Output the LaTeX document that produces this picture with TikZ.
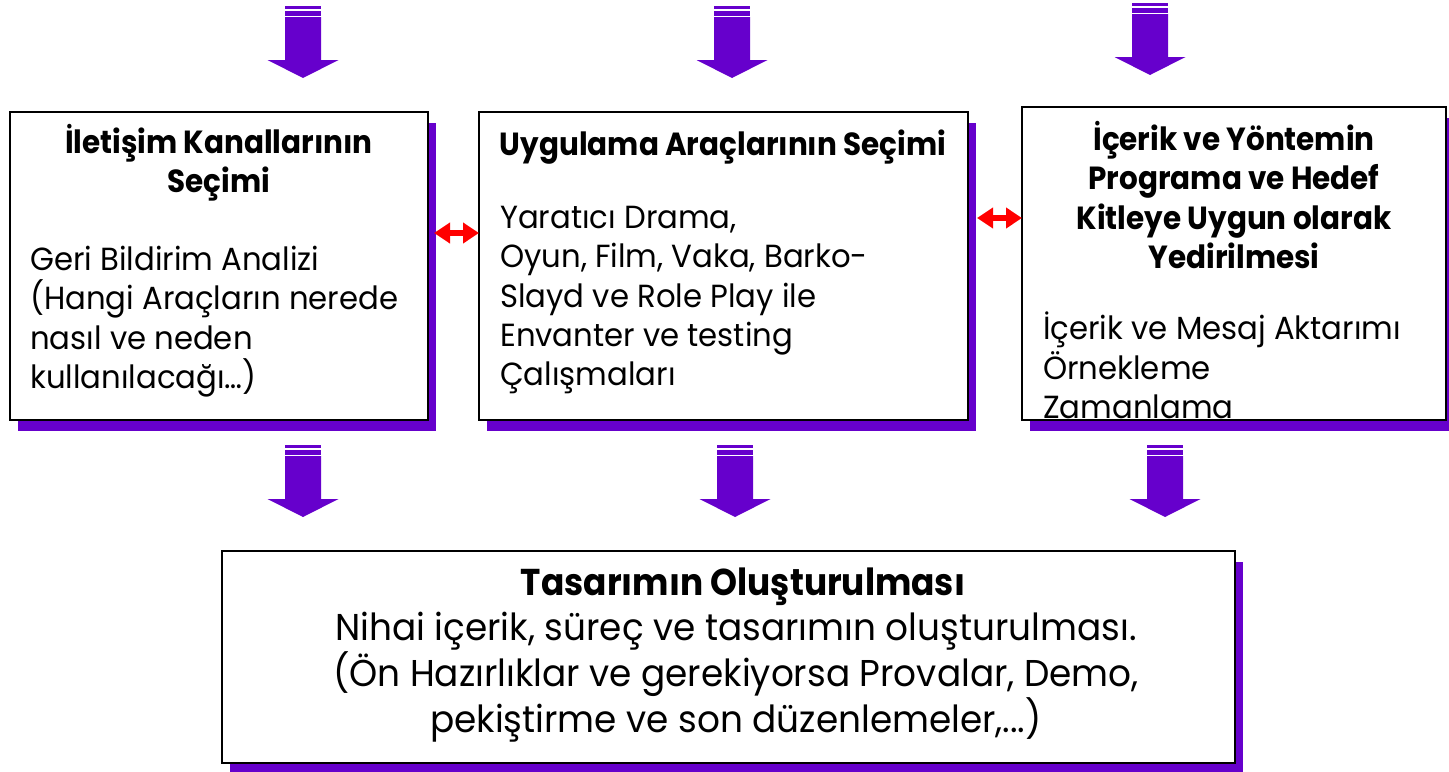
\documentclass[tikz,border=0pt]{standalone}
\usepackage{fontspec}
\setmainfont{Poppins}[FakeStretch=0.96,BoldFeatures={FakeStretch=0.92}]
\usetikzlibrary{arrows.meta,calc,shadows}
\definecolor{vio}{RGB}{102,0,204}
\definecolor{redarr}{RGB}{255,0,0}
\begin{document}
\begin{tikzpicture}[x=0.75pt,y=-0.75pt,
  box/.style={draw=black,line width=1.5pt,fill=white,anchor=north west,inner sep=0pt,outer sep=0pt,
    drop shadow={shadow xshift=6pt,shadow yshift=-8pt,fill=vio,opacity=1}},
  ttl/.style={inner sep=0pt,align=center,font=\fontsize{24}{29.5}\selectfont\bfseries},
  bdy/.style={inner sep=0pt,align=left,font=\fontsize{24}{29.5}\selectfont},
  bttl/.style={inner sep=0pt,font=\fontsize{28}{33}\selectfont\bfseries},
  bbdy/.style={inner sep=0pt,align=center,font=\fontsize{28}{33}\selectfont},
  dbl/.style={redarr,line width=4.5pt,{Triangle[length=12pt,width=15pt]}-{Triangle[length=12pt,width=15pt]}},
  barrow/.pic={
    \fill[vio] (-18,0) rectangle (18,3);
    \fill[vio] (-18,5) rectangle (18,10);
    \fill[vio] (-18,11) -- (18,11) -- (18,54) -- (35.5,54) -- (0,72) -- (-35.5,54) -- (-18,54) -- cycle;
  }]
\useasboundingbox (0,0) rectangle (1449,771);

% block arrows
\pic at (303,6) {barrow};
\pic at (732,6) {barrow};
\pic at (1150,3) {barrow};
\pic at (303,445) {barrow};
\pic at (735,445) {barrow};
\pic at (1165,445) {barrow};

% boxes
\node[box,minimum width=418*0.75pt,minimum height=308*0.75pt] (b1) at (10,112) {};
\node[box,minimum width=489*0.75pt,minimum height=308*0.75pt] (b2) at (479,112) {};
\node[box,minimum width=424*0.75pt,minimum height=313*0.75pt] (b3) at (1022,107) {};
\node[box,minimum width=1013*0.75pt,minimum height=212*0.75pt] (b4) at (222,551) {};

% red double arrows
\coordinate (r1) at (434,233);
\coordinate (r2) at (977,218);
\draw[dbl] (r1) -- (r1 -| b2.west);
\draw[dbl] (r2) -- (r2 -| b3.west);

% texts
\node[ttl,anchor=north] (t1) at (219,124) {İletişim Kanallarının\\Seçimi};
\node[bdy,anchor=north west] (x1) at (30,246) {Geri Bildirim Analizi\\(Hangi Araçların nerede\\nasıl ve neden\\kullanılacağı…)};
\node[ttl,anchor=north] (t2) at (723,130) {Uygulama Araçlarının Seçimi};
\node[bdy,anchor=north west] (x2) at (500,206) {Yaratıcı Drama,\\Oyun, Film, Vaka, Barko-\\Slayd ve Role Play ile\\Envanter ve testing\\Çalışmaları};
\node[ttl,anchor=north] (t3) at (1234,121) {İçerik ve Yöntemin\\Programa ve Hedef\\Kitleye Uygun olarak\\Yedirilmesi};
\node[bdy,anchor=north west] (x3) at (1043,312) {İçerik ve Mesaj Aktarımı\\Örnekleme\\Zamanlama};
\node[bttl,anchor=north] (t4) at (743,568) {Tasarımın Oluşturulması};
\node[bbdy,anchor=north] (x4) at (736,612) {Nihai içerik, süreç ve tasarımın oluşturulması.\\(Ön Hazırlıklar ve gerekiyorsa Provalar, Demo,\\pekiştirme ve son düzenlemeler,...)};
\end{tikzpicture}
\end{document}
